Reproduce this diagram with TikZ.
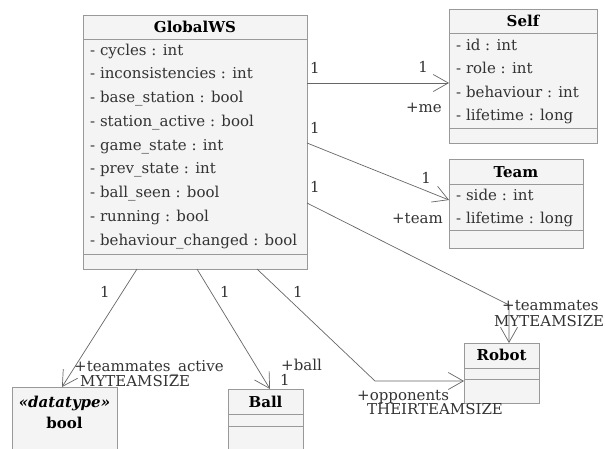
\documentclass[tikz,border=0pt]{standalone}
\usepackage{fontspec}
\setmainfont{DejaVu Serif}
\usetikzlibrary{arrows.meta,calc}
\definecolor{ink}{HTML}{333333}
\definecolor{wire}{HTML}{666666}
\definecolor{boxline}{HTML}{999999}
\definecolor{boxfill}{HTML}{F4F4F4}
\begin{document}
\begin{tikzpicture}[x=1pt,y=-1pt,
  font=\fontsize{15}{17}\selectfont,
  classbox/.style={draw=boxline, fill=boxfill, line width=1pt, inner sep=0pt, outer sep=0pt, anchor=north west},
  sepline/.style={draw=boxline, line width=1pt},
  assoc/.style={draw=wire, line width=0.7pt, -{Straight Barb[length=15pt,width=17pt,line width=0.7pt]}},
  attr/.style={anchor=base west, inner sep=0pt, text=ink},
  ctitle/.style={anchor=base, inner sep=0pt, text=black, font=\fontsize{15}{17}\selectfont\bfseries},
  lbl/.style={inner sep=0pt, text=ink}]
\clip (0,0) rectangle (605,448);

% ---- GlobalWS ----
\node[classbox, minimum width=224pt, minimum height=254pt] (gws) at (83,15) {};
\draw[sepline] (83,39) -- (307,39);
\draw[sepline] (83,254) -- (307,254);
\node[ctitle] (gwsT) at (195,32) {GlobalWS};
\node[attr] (g1) at (90,55) {- cycles : int};
\node[attr] (g2) at (90,78.75) {- inconsistencies : int};
\node[attr] (g3) at (90,102.5) {- base\_station : bool};
\node[attr] (g4) at (90,126.25) {- station\_active : bool};
\node[attr] (g5) at (90,150) {- game\_state : int};
\node[attr] (g6) at (90,173.75) {- prev\_state : int};
\node[attr] (g7) at (90,197.5) {- ball\_seen : bool};
\node[attr] (g8) at (90,221.25) {- running : bool};
\node[attr] (g9) at (90,245) {- behaviour\_changed : bool};

% ---- Self ----
\node[classbox, minimum width=148pt, minimum height=134pt] (self) at (449,9) {};
\draw[sepline] (449,33) -- (597,33);
\draw[sepline] (449,128) -- (597,128);
\node[ctitle] (selfT) at (523,26) {Self};
\node[attr] (s1) at (456,50) {- id : int};
\node[attr] (s2) at (456,73.5) {- role : int};
\node[attr] (s3) at (456,97) {- behaviour : int};
\node[attr] (s4) at (456,120) {- lifetime : long};

% ---- Team ----
\node[classbox, minimum width=134pt, minimum height=89pt] (team) at (449,159) {};
\draw[sepline] (449,184) -- (583,184);
\draw[sepline] (449,230) -- (583,230);
\node[ctitle] (teamT) at (516,177) {Team};
\node[attr] (t1) at (456,200) {- side : int};
\node[attr] (t2) at (456,223) {- lifetime : long};

% ---- Robot ----
\node[classbox, minimum width=75pt, minimum height=60pt] (robot) at (464,343) {};
\draw[sepline] (464,368) -- (539,368);
\draw[sepline] (464,379) -- (539,379);
\node[ctitle] (robotT) at (501.5,360) {Robot};

% ---- bool datatype ----
\node[classbox, minimum width=105pt, minimum height=70pt] (bool) at (12,387) {};
\node[ctitle, font=\fontsize{15}{17}\selectfont\bfseries\itshape] (boolS) at (64.5,407) {«datatype»};
\node[ctitle] (boolT) at (64.5,428) {bool};

% ---- Ball ----
\node[classbox, minimum width=75pt, minimum height=70pt] (ball) at (228,389) {};
\draw[sepline] (228,414) -- (303,414);
\draw[sepline] (228,426) -- (303,426);
\node[ctitle] (ballT) at (265.5,407) {Ball};

% ---- associations ----
\draw[assoc] ($(gws.north east)+(0,68)$) -- ($(self.north west)+(0,74)$);
\draw[assoc] ($(gws.north east)+(0,128)$) -- ($(team.north west)+(0,41)$);
\draw[assoc] ($(gws.north east)+(0,188)$) -- ($(robot.north west)+(45,-38)$) -- ($(robot.north west)+(45,0)$);
\draw[assoc] ($(gws.south west)+(174,0)$) -- ($(robot.north west)+(-89,38)$) -- ($(robot.north west)+(0,38)$);
\draw[assoc] ($(gws.south west)+(114,0)$) -- ($(ball.north west)+(42,0)$);
\draw[assoc] ($(gws.south west)+(54,0)$) -- ($(bool.north west)+(50,0)$);

% ---- multiplicities and role names ----
\node[lbl, anchor=base west] (m1a) at (310,73) {1};
\node[lbl, anchor=base east] (m1b) at (428,72) {1};
\node[lbl, anchor=base east] (r1) at (442,112) {+me};
\node[lbl, anchor=base west] (m2a) at (310,133) {1};
\node[lbl, anchor=base east] (m2b) at (431,183) {1};
\node[lbl, anchor=base east] (r2) at (443,223) {+team};
\node[lbl, anchor=base west] (m3a) at (310,192) {1};
\node[lbl, anchor=base west] (r3) at (502,310) {+teammates};
\node[lbl, anchor=base west] (r3m) at (494,326) {MYTEAMSIZE};
\node[lbl, anchor=base] (m4a) at (298,297) {1};
\node[lbl, anchor=base west] (r4) at (357,400) {+opponents};
\node[lbl, anchor=base west] (r4m) at (367,414) {THEIRTEAMSIZE};
\node[lbl, anchor=base] (m5a) at (225,297) {1};
\node[lbl, anchor=base west] (r5) at (281,370) {+ball};
\node[lbl, anchor=base west] (r5m) at (280,385) {1};
\node[lbl, anchor=base] (m6a) at (105,297) {1};
\node[lbl, anchor=base west] (r6) at (74,371) {+teammates\_active};
\node[lbl, anchor=base west] (r6m) at (80,386) {MYTEAMSIZE};
\end{tikzpicture}
\end{document}
